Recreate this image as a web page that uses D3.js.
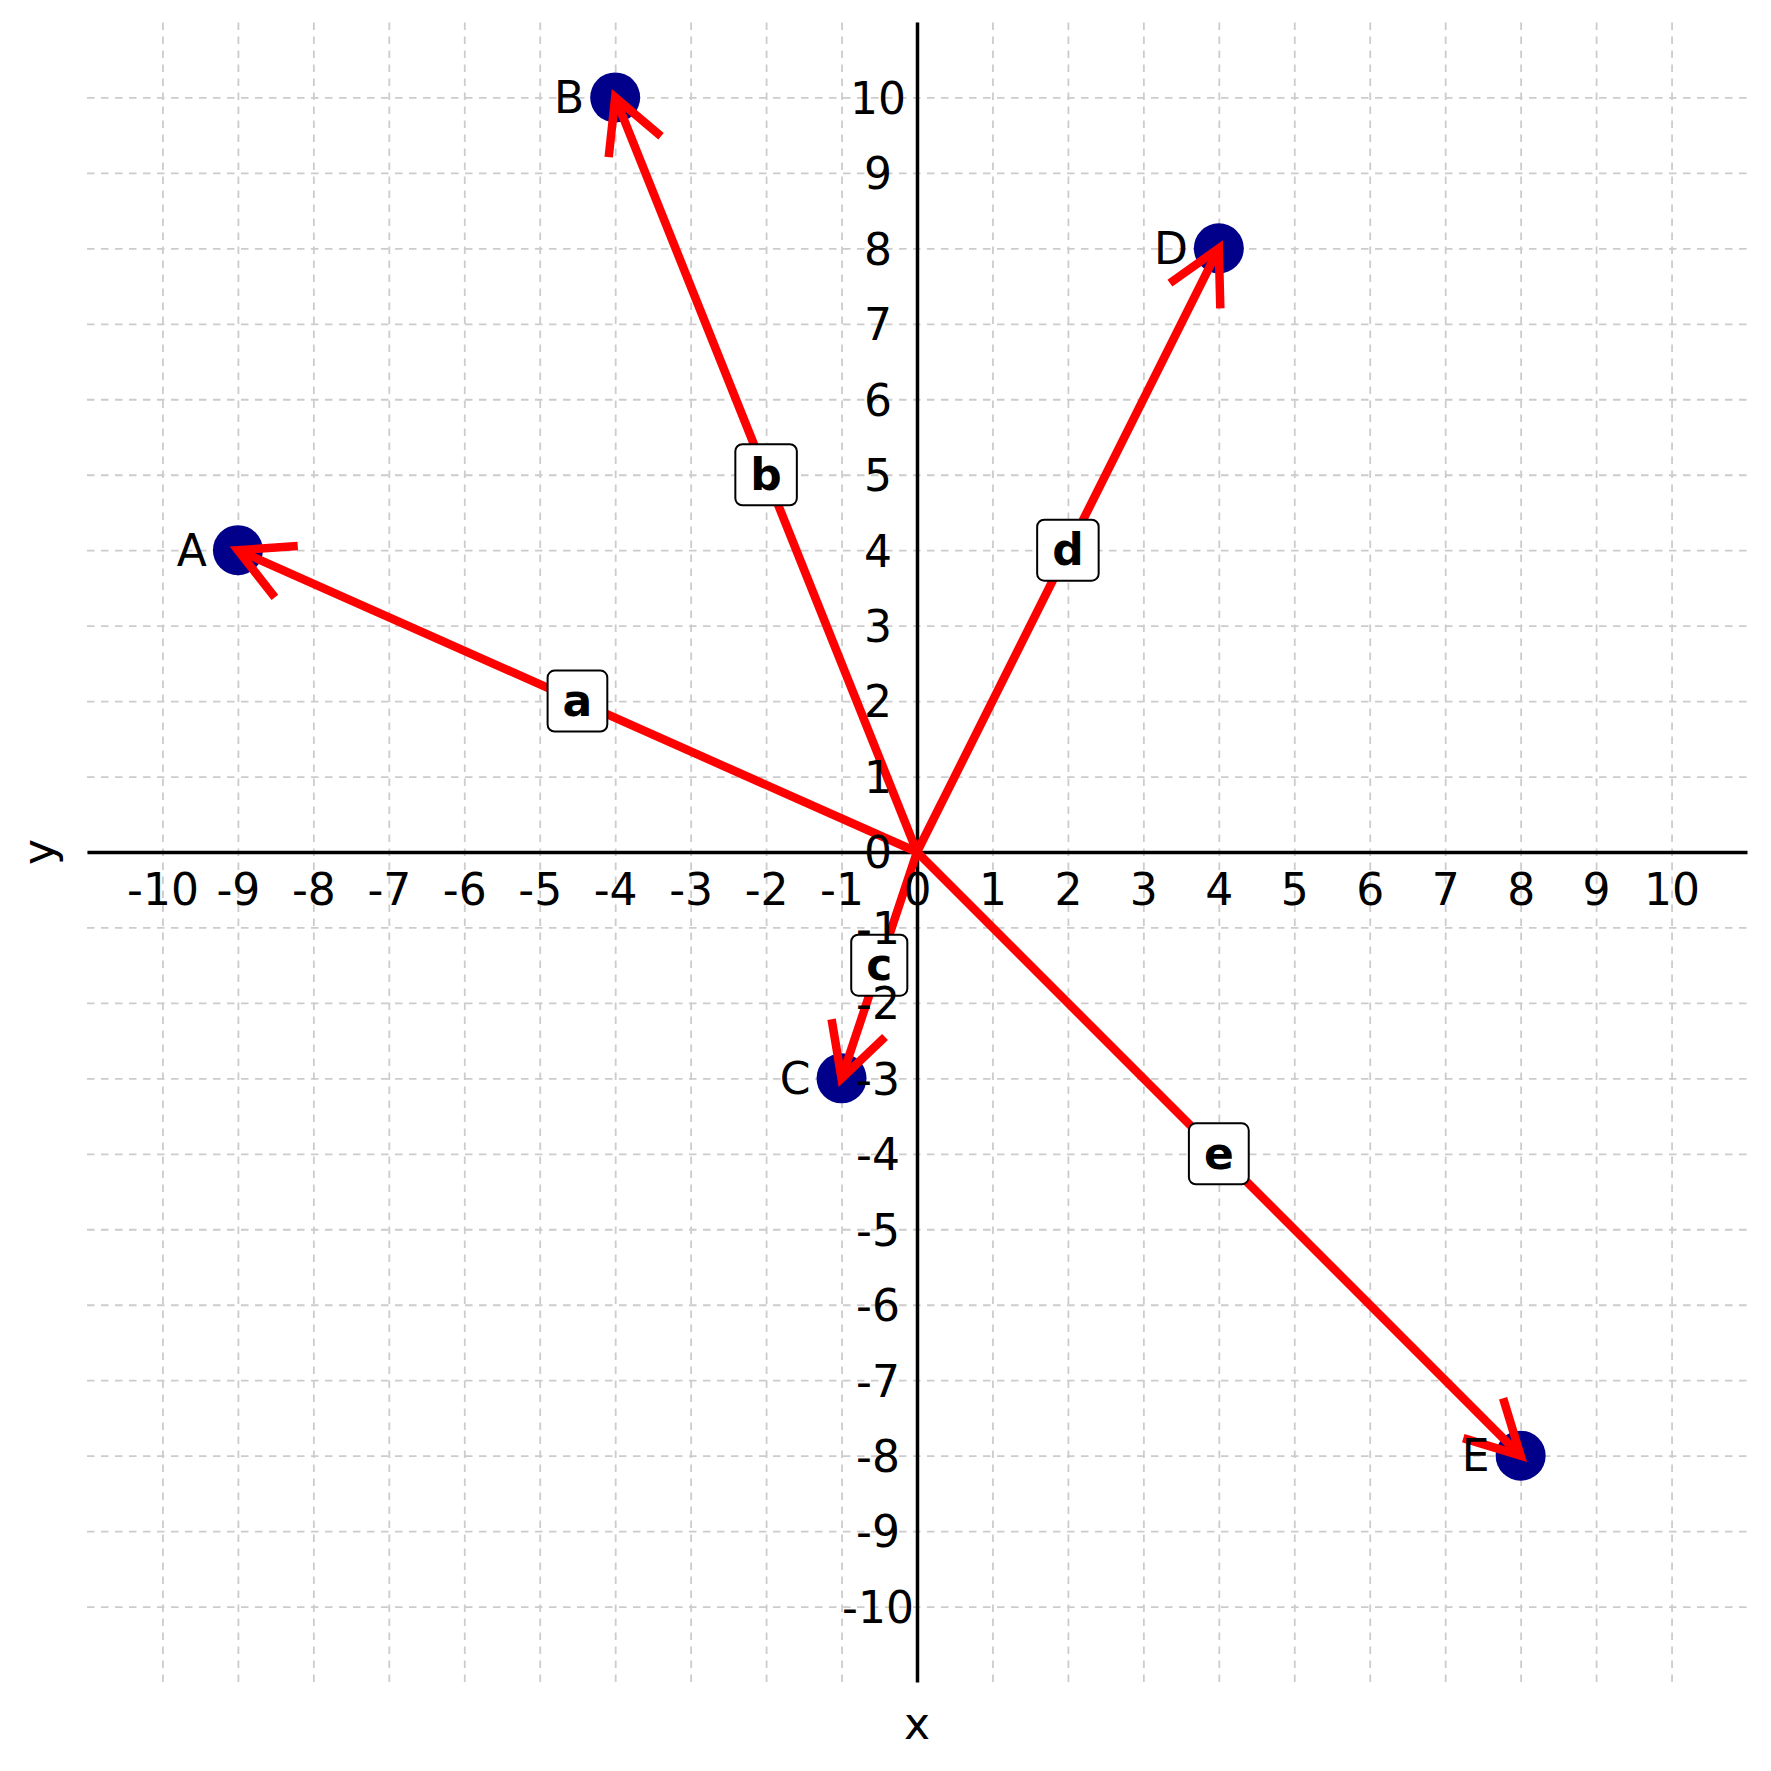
<!DOCTYPE html>
<html>
<head>
<meta charset="utf-8">
<script src="https://cdn.jsdelivr.net/npm/d3@7"></script>
<style>
  html, body { margin: 0; padding: 0; background: #ffffff; }
  svg { display: block; font-family: "DejaVu Sans", sans-serif; }
</style>
</head>
<body>
<svg id="chart" width="1771" height="1771"></svg>
<script>
// ---- data ----
const pointNames = ["A", "B", "C", "D", "E"];
const pointX = [-9, -4, -1, 4, 8];
const pointY = [4, 10, -3, 8, -8];
const vectorNames = ["a", "b", "c", "d", "e"];
const vectorLabelX = [-4.5, -2, -0.5, 2, 4];
const vectorLabelY = [2, 5, -1.5, 4, -4];
const xTicks = [-10, -9, -8, -7, -6, -5, -4, -3, -2, -1, 0, 1, 2, 3, 4, 5, 6, 7, 8, 9, 10];
const yTicks = [-10, -9, -8, -7, -6, -5, -4, -3, -2, -1, 0, 1, 2, 3, 4, 5, 6, 7, 8, 9, 10];
const xDomain = [-11, 11];
const yDomain = [-11, 11];

// ---- layout ----
const plot = { left: 87, right: 1747, top: 22, bottom: 1682 };
const svg = d3.select("#chart");
svg.append("rect").attr("width", 1771).attr("height", 1771).attr("fill", "#ffffff");

const x = d3.scaleLinear().domain(xDomain).range([plot.left, plot.right]);
const y = d3.scaleLinear().domain(yDomain).range([plot.bottom, plot.top]);
const ox = x(0), oy = y(0);

// ---- grid ----
const gridX = svg.append("g")
  .attr("transform", `translate(0,${plot.bottom})`)
  .call(d3.axisBottom(x).tickValues(xTicks).tickSize(-(plot.bottom - plot.top)).tickFormat(""));
const gridY = svg.append("g")
  .attr("transform", `translate(${plot.left},0)`)
  .call(d3.axisLeft(y).tickValues(yTicks).tickSize(-(plot.right - plot.left)).tickFormat(""));
[gridX, gridY].forEach(g => {
  g.select(".domain").remove();
  g.selectAll(".tick line")
    .attr("stroke", "#cccccc")
    .attr("stroke-width", 1.8)
    .attr("stroke-dasharray", "7.5,6.5");
});

// ---- axis lines (centered spines) ----
const axisLineX = svg.append("g")
  .attr("transform", `translate(0,${oy})`)
  .call(d3.axisBottom(x).tickValues([]).tickSize(0).tickSizeOuter(0));
const axisLineY = svg.append("g")
  .attr("transform", `translate(${ox},0)`)
  .call(d3.axisLeft(y).tickValues([]).tickSize(0).tickSizeOuter(0));
[axisLineX, axisLineY].forEach(g => {
  g.select(".domain").attr("stroke", "#000000").attr("stroke-width", 3.5);
});

// ---- points ----
const pts = pointNames.map((n, i) => ({ name: n, x: pointX[i], y: pointY[i] }));
svg.append("g").selectAll("circle").data(pts).join("circle")
  .attr("cx", d => x(d.x)).attr("cy", d => y(d.y)).attr("r", 25)
  .attr("fill", "#00008b");

// ---- arrows ----
const headLen = 60, headAng = 28 * Math.PI / 180;
const arrows = svg.append("g")
  .attr("fill", "none").attr("stroke", "#ff0000").attr("stroke-width", 8.5);
pts.forEach(d => {
  const tx = x(d.x), ty = y(d.y);
  arrows.append("line")
    .attr("x1", ox).attr("y1", oy).attr("x2", tx).attr("y2", ty)
    .attr("stroke-linecap", "butt");
  const back = Math.atan2(oy - ty, ox - tx);
  const p1 = [tx + headLen * Math.cos(back + headAng), ty + headLen * Math.sin(back + headAng)];
  const p2 = [tx + headLen * Math.cos(back - headAng), ty + headLen * Math.sin(back - headAng)];
  arrows.append("path")
    .attr("d", `M${p1[0]},${p1[1]}L${tx},${ty}L${p2[0]},${p2[1]}`)
    .attr("stroke-linejoin", "miter").attr("stroke-miterlimit", 10)
    .attr("stroke-linecap", "butt");
});

// ---- vector labels in boxes ----
const vlabels = vectorNames.map((n, i) => ({ name: n, x: vectorLabelX[i], y: vectorLabelY[i] }));
const vg = svg.append("g");
vlabels.forEach(d => {
  const g = vg.append("g").attr("transform", `translate(${x(d.x)},${y(d.y)})`);
  const rect = g.append("rect");
  const t = g.append("text")
    .attr("text-anchor", "middle").attr("dy", "0.34em")
    .attr("font-size", 44).attr("font-weight", "bold").attr("fill", "#000000")
    .text(d.name);
  const w = t.node().getComputedTextLength() + 30;
  const h = 61;
  rect.attr("x", -w / 2).attr("y", -h / 2).attr("width", w).attr("height", h)
    .attr("rx", 7).attr("ry", 7)
    .attr("fill", "#ffffff").attr("stroke", "#000000").attr("stroke-width", 2);
});

// ---- tick labels (on top) ----
const xLab = svg.append("g")
  .attr("transform", `translate(0,${oy})`)
  .call(d3.axisBottom(x).tickValues(xTicks).tickSize(0).tickPadding(22).tickFormat(d => String(d)));
const yLab = svg.append("g")
  .attr("transform", `translate(${ox},0)`)
  .call(d3.axisLeft(y).tickValues(yTicks).tickSize(0).tickPadding(0).tickFormat(d => String(d)));
[xLab, yLab].forEach(g => {
  g.select(".domain").remove();
  g.attr("font-family", "DejaVu Sans, sans-serif").attr("font-size", 44);
  g.selectAll(".tick text").attr("fill", "#000000");
});
yLab.selectAll(".tick text").attr("text-anchor", "middle").attr("x", -39).attr("dy", "0.36em");

// ---- point labels ----
svg.append("g").selectAll("text").data(pts).join("text")
  .attr("x", d => x(d.x) - 31).attr("y", d => y(d.y)).attr("dy", "0.36em")
  .attr("text-anchor", "end").attr("font-size", 44).attr("fill", "#000000")
  .text(d => d.name);

// ---- axis titles ----
svg.append("text").attr("x", ox).attr("y", 1739)
  .attr("text-anchor", "middle").attr("font-size", 44).text("x");
svg.append("text").attr("transform", `translate(54,${oy}) rotate(-90)`)
  .attr("text-anchor", "middle").attr("font-size", 44).text("y");
</script>
</body>
</html>
